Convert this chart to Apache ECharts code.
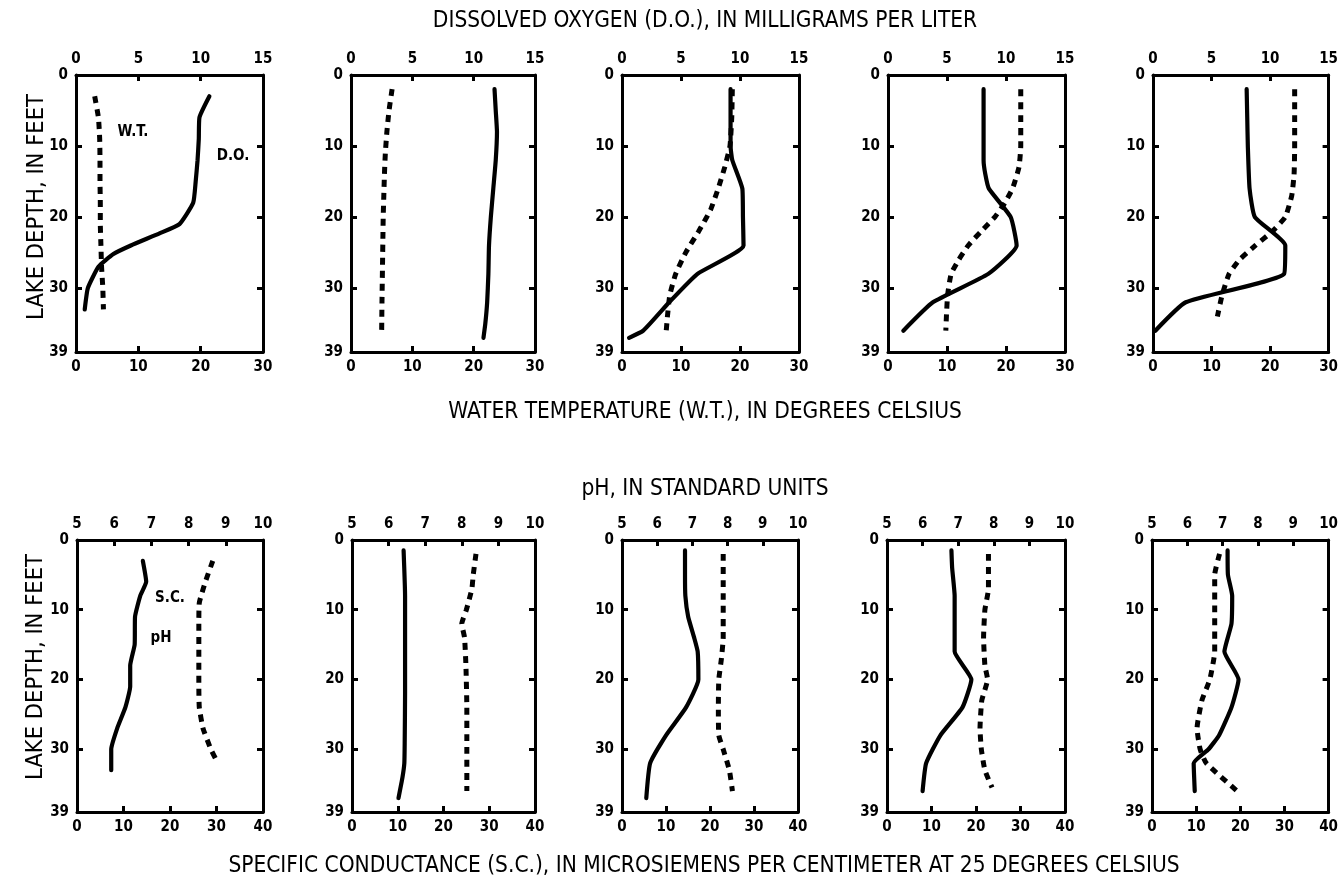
<!DOCTYPE html>
<html><head><meta charset="utf-8">
<script src="https://cdn.jsdelivr.net/npm/echarts@6/dist/echarts.min.js"></script>
<style>html,body{margin:0;padding:0;background:#fff}#c{width:1341px;height:881px}</style>
</head><body><div id="c"></div>
<script>
// ---- DATA: [depth (ft), value] ----
// Dissolved oxygen (mg/L), solid line, top axis
const do1 = [[3,10.7],[6,9.9],[9,9.85],[12,9.75],[15,9.6],[18,9.4],[21,8.3],[22.3,6.7],[24,4.4],[25.2,3.0],[27,1.8],[30,0.95],[33,0.7]];
const do2 = [[2,11.7],[5,11.8],[8,11.9],[12,11.8],[16,11.6],[20,11.4],[24,11.25],[28,11.2],[32,11.1],[35,10.95],[37,10.8]];
const do3 = [[2,9.2],[6,9.2],[10,9.2],[12,9.35],[16,10.2],[20,10.25],[24,10.3],[28,6.4],[32,4.0],[36,1.8],[37,0.6]];
const do4 = [[2,8.1],[6,8.1],[12,8.1],[14,8.25],[16,8.55],[20,10.4],[24,10.9],[28,8.5],[32,3.8],[36,1.3]];
const do5 = [[2,8.0],[6,8.05],[10,8.1],[16,8.25],[20,8.7],[24,11.3],[28,11.2],[32,2.8],[36,0.2]];
// Water temperature (deg C), dashed line, bottom axis
const wt1 = [[3,3.0],[6,3.6],[9,3.8],[12,3.85],[15,3.85],[18,3.9],[21,3.9],[24,4.0],[27,4.1],[30,4.3],[33,4.4]];
const wt2 = [[2,6.7],[5,6.2],[8,5.85],[11,5.6],[14,5.45],[17,5.35],[20,5.25],[23,5.2],[26,5.15],[29,5.1],[32,5.05],[36,5.0]];
const wt3 = [[2,18.7],[6,18.6],[10,18.3],[13,17.4],[16,16.3],[19,15.0],[22,13.0],[25,10.8],[28,9.1],[31,8.1],[34,7.7],[36,7.5]];
const wt4 = [[2,22.5],[6,22.5],[10,22.5],[13,22.2],[16,21.1],[18,19.8],[20,18.1],[22,15.8],[24,13.6],[26,12.0],[28,10.7],[31,10.1],[34,9.9],[36,9.8]];
const wt5 = [[2,24.2],[6,24.2],[10,24.2],[14,24.1],[17,23.7],[20,22.6],[22,20.4],[24,17.5],[26,14.8],[28,13.0],[31,11.8],[34,11.0]];
// pH (standard units), solid line, top axis
const ph1 = [[3,6.77],[6,6.86],[8,6.7],[11,6.56],[15,6.55],[18,6.43],[21,6.43],[24,6.3],[27,6.08],[30,5.92],[33,5.92]];
const ph2 = [[1.5,6.41],[8,6.45],[15,6.45],[22,6.45],[29,6.44],[32,6.43],[34,6.38],[37,6.27]];
const ph3 = [[1.5,6.79],[5,6.79],[8,6.8],[11,6.88],[14,7.05],[16,7.15],[20,7.17],[24,6.82],[28,6.25],[32,5.8],[37,5.69]];
const ph4 = [[1.5,6.81],[4,6.83],[8,6.9],[12,6.9],[16,6.9],[20,7.37],[24,7.12],[28,6.5],[32,6.1],[36,6.0]];
const ph5 = [[1.5,7.14],[5,7.15],[8,7.27],[12,7.25],[16,7.05],[20,7.45],[24,7.25],[28,6.9],[30,6.6],[32,6.18],[36,6.21]];
// Specific conductance (uS/cm), dashed line, bottom axis
const sc1 = [[3,29.2],[6,27.6],[9,26.3],[12,26.2],[15,26.2],[18,26.2],[21,26.2],[24,26.3],[27,27.1],[30,28.8],[32,30.3]];
const sc2 = [[2,27.1],[5,26.5],[7,26.2],[10,25.0],[12,24.0],[14,24.6],[18,24.9],[24,25.1],[30,25.1],[36,25.1]];
const sc3 = [[2,23.0],[8,23.0],[14,23.0],[17,22.6],[20,22.0],[24,21.9],[28,22.0],[30,23.0],[33,24.4],[36,25.1]];
const sc4 = [[2,22.8],[7,22.8],[10,22.0],[14,21.7],[18,22.0],[20,22.6],[23,21.3],[27,20.9],[30,21.2],[33,22.0],[35.5,23.6]];
const sc5 = [[2,15.3],[5,14.2],[10,14.2],[16,14.2],[20,13.1],[23,11.3],[27,10.2],[30,10.9],[32,12.3],[36,19.3]];

const depthMax = 39;
const doRange = [0, 15], doInterval = 5;
const wtRange = [0, 30], wtInterval = 10;
const phRange = [5, 10], phInterval = 1;
const scRange = [0, 40], scInterval = 10;

// ---- LAYOUT ----
const FONT = "'DejaVu Sans Condensed','Liberation Sans Narrow',sans-serif";
const topRow = {top: 75, height: 277, lefts: [76, 351, 622, 888, 1153], widths: [187, 184, 177, 177, 182]};
const botRow = {top: 540, height: 272, lefts: [77, 352, 622, 887, 1152], widths: [186, 183, 176, 178, 183]};

const grids = [], xAxes = [], yAxes = [], series = [];
const lineW = 3;
function axisCommon() {
  return {
    axisLine: {show: true, onZero: false, lineStyle: {color: '#000', width: lineW}},
    axisTick: {show: true, inside: true, length: 6, lineStyle: {color: '#000', width: 3}},
    splitLine: {show: false},
    axisLabel: {color: '#000', fontFamily: FONT, fontWeight: 'bold', fontSize: 15, margin: 8}
  };
}
function addPanel(row, i, topRange, topInt, botRange, botInt, solid, dashed) {
  const g = grids.length;
  grids.push({left: row.lefts[i], top: row.top, width: row.widths[i], height: row.height, containLabel: false});
  const xTop = xAxes.length;
  xAxes.push(Object.assign(axisCommon(), {type: 'value', gridIndex: g, position: 'top', min: topRange[0], max: topRange[1], interval: topInt}));
  const xBot = xAxes.length;
  xAxes.push(Object.assign(axisCommon(), {type: 'value', gridIndex: g, position: 'bottom', min: botRange[0], max: botRange[1], interval: botInt}));
  const yL = yAxes.length;
  yAxes.push(Object.assign(axisCommon(), {type: 'value', gridIndex: g, position: 'left', inverse: true, min: 0, max: depthMax, interval: 10}));
  const yR = yAxes.length;
  const r = axisCommon(); r.axisLabel = {show: false};
  yAxes.push(Object.assign(r, {type: 'value', gridIndex: g, position: 'right', inverse: true, min: 0, max: depthMax, interval: 10}));
  series.push({type: 'line', xAxisIndex: xTop, yAxisIndex: yL, data: solid.map(p => [p[1], p[0]]),
    showSymbol: false, smooth: 0.15, lineStyle: {color: '#000', width: 4.2, type: 'solid', cap: 'round', join: 'round'}, silent: true, animation: false});
  series.push({type: 'line', xAxisIndex: xBot, yAxisIndex: yL, data: dashed.map(p => [p[1], p[0]]),
    showSymbol: false, smooth: 0.15, lineStyle: {color: '#000', width: 5, type: [7, 6]}, silent: true, animation: false});
}
const doAll = [do1, do2, do3, do4, do5], wtAll = [wt1, wt2, wt3, wt4, wt5];
const phAll = [ph1, ph2, ph3, ph4, ph5], scAll = [sc1, sc2, sc3, sc4, sc5];
for (let i = 0; i < 5; i++) addPanel(topRow, i, doRange, doInterval, wtRange, wtInterval, doAll[i], wtAll[i]);
for (let i = 0; i < 5; i++) addPanel(botRow, i, phRange, phInterval, scRange, scInterval, phAll[i], scAll[i]);

function txt(s, x, y, size, weight, rot) {
  return {type: 'text', x: x, y: y, rotation: rot || 0,
    style: {text: s, x: 0, y: 0, textAlign: 'center', textVerticalAlign: 'middle', fill: '#000',
      font: (weight || 'normal') + ' ' + size + 'px ' + FONT}};
}
const graphics = [
  txt('DISSOLVED OXYGEN (D.O.), IN MILLIGRAMS PER LITER', 705, 21, 22.5),
  txt('WATER TEMPERATURE (W.T.), IN DEGREES CELSIUS', 705, 412, 22.5),
  txt('pH, IN STANDARD UNITS', 705, 489, 22.5),
  txt('SPECIFIC CONDUCTANCE (S.C.), IN MICROSIEMENS PER CENTIMETER AT 25 DEGREES CELSIUS', 704, 866, 22.5),
  txt('LAKE DEPTH, IN FEET', 37, 207, 23.5, 'normal', Math.PI / 2),
  txt('LAKE DEPTH, IN FEET', 36, 667, 23.5, 'normal', Math.PI / 2),
  txt('W.T.', 133, 132, 15, 'bold'),
  txt('D.O.', 233, 156, 15, 'bold'),
  txt('S.C.', 170, 598, 15, 'bold'),
  txt('pH', 161, 638, 15, 'bold')
];

const chart = echarts.init(document.getElementById('c'));
chart.setOption({
  animation: false,
  backgroundColor: '#fff',
  grid: grids, xAxis: xAxes, yAxis: yAxes, series: series,
  graphic: graphics
});
</script></body></html>
